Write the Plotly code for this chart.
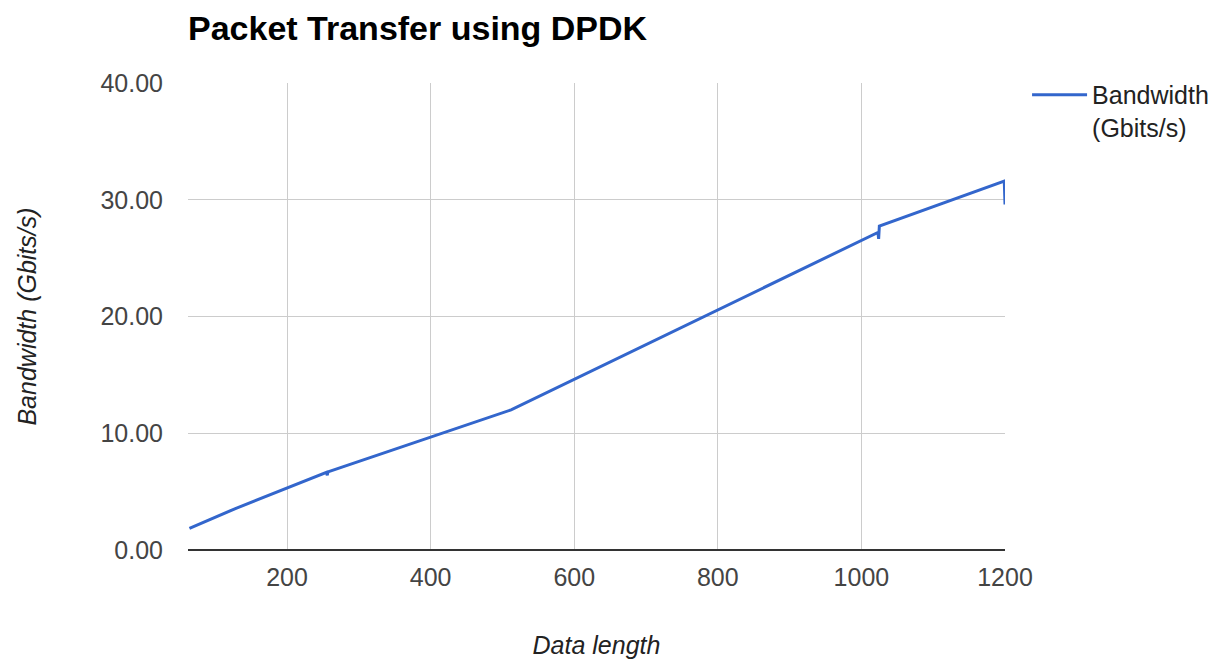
import plotly.graph_objects as go

# Data
data_length = [64, 128, 255, 256, 257, 512, 1023, 1024, 1025, 1199, 1200]
bandwidth = [1.85, 3.55, 6.65, 6.4, 6.7, 12.0, 27.2, 26.65, 27.75, 31.6, 29.6]

x_ticks = [200, 400, 600, 800, 1000, 1200]
y_ticks = [0, 10, 20, 30, 40]

FONT = "Arial, Liberation Sans, sans-serif"

fig = go.Figure()
fig.add_trace(go.Scatter(
    x=data_length, y=bandwidth, mode="lines",
    name="Bandwidth<br>(Gbits/s)",
    line=dict(color="#3366cc", width=3),
))

fig.update_layout(
    width=1219, height=662,
    margin=dict(l=188, r=214, t=83, b=112, autoexpand=False),
    paper_bgcolor="white", plot_bgcolor="white",
    font=dict(family=FONT, size=25, color="#444444"),
    title=dict(text="<b>Packet Transfer using DPDK</b>",
               font=dict(family=FONT, size=34, color="#000000"),
               x=188 / 1219, xanchor="left", y=1 - 28 / 662, yanchor="middle"),
    legend=dict(x=1.027, xanchor="left", y=1.0236, yanchor="top",
                valign="top", itemwidth=55, font=dict(size=25, color="#222222"),
                bgcolor="rgba(0,0,0,0)"),
    showlegend=True,
)

fig.update_xaxes(
    range=[62, 1200], tickvals=x_ticks, ticktext=[str(v) for v in x_ticks],
    showgrid=True, gridcolor="#cccccc", gridwidth=1,
    zeroline=False, showline=False, ticks="", automargin=False,
    ticklabelstandoff=10,
    title=dict(text="<i>Data length</i>", font=dict(size=25, color="#222222"), standoff=46),
)
fig.update_yaxes(
    range=[0, 40], tickvals=y_ticks, ticktext=[f"{v:.2f}" for v in y_ticks],
    showgrid=True, gridcolor="#cccccc", gridwidth=1,
    zeroline=True, zerolinecolor="#333333", zerolinewidth=2,
    showline=False, ticks="", ticklabelstandoff=24, automargin=False,
    title=dict(text="<i>Bandwidth (Gbits/s)</i>", font=dict(size=25, color="#222222"), standoff=56),
)

fig.write_html("out.html", config={"displayModeBar": False},
               post_script="document.body.style.margin='0px';")
